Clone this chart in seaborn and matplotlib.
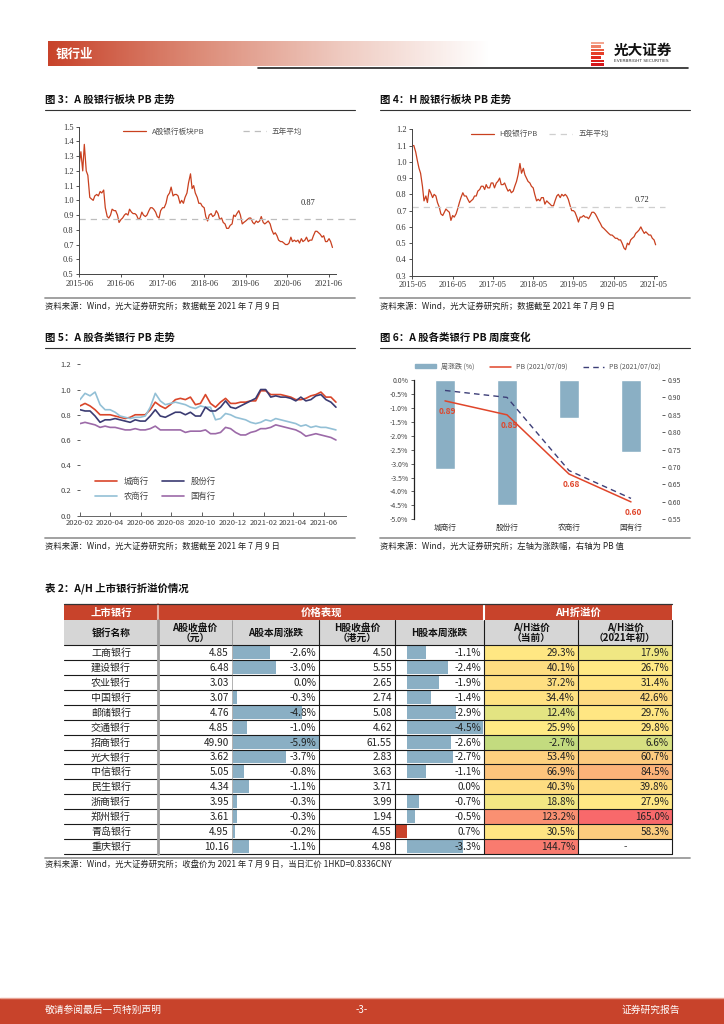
# Page 3 of the bank sector report: PB trend charts plus A/H premium table
import matplotlib
matplotlib.use('Agg')
import matplotlib.pyplot as plt
from matplotlib.patches import Rectangle, Patch
from matplotlib.lines import Line2D
from matplotlib.colors import LinearSegmentedColormap, TwoSlopeNorm
from matplotlib.ticker import FuncFormatter, MultipleLocator
import numpy as np
import pandas as pd
import seaborn as sns

# ---------------- data ----------------
# fig 3: A-share bank sector PB, semi-monthly from 2015-06
a_pb = [1.25, 1.33, 1.20, 1.38, 1.20, 1.17, 1.02, 1.01, 1.00, 1.03, 1.04, 1.03, 1.06, 1.05,
        1.07, 0.95, 0.89, 0.88, 0.90, 0.94, 0.93, 0.93, 0.90, 0.85, 0.87, 0.88,
        0.90, 0.91, 0.90, 0.94, 0.92, 0.91, 0.91, 0.90, 0.87, 0.88, 0.92, 0.90,
        0.89, 0.90, 0.93, 0.95, 0.95, 0.94, 0.92, 0.89, 0.88, 0.93, 0.95, 0.95,
        0.98, 1.03, 1.05, 1.09, 1.03, 1.04, 1.04, 1.03, 0.98, 1.00, 0.98, 1.02,
        1.05, 1.12, 1.18, 1.08, 1.10, 1.05, 1.02, 0.98, 0.98, 0.96, 0.95, 0.89,
        0.86, 0.90, 0.91, 0.89, 0.90, 0.93, 0.91, 0.87, 0.88, 0.85, 0.84, 0.81,
        0.81, 0.83, 0.84, 0.90, 0.89, 0.91, 0.93, 0.90, 0.84, 0.85, 0.86, 0.87,
        0.88, 0.88, 0.85, 0.84, 0.86, 0.85, 0.86, 0.89, 0.85, 0.84, 0.85, 0.86,
        0.84, 0.80, 0.77, 0.78, 0.76, 0.73, 0.72, 0.72, 0.71, 0.70, 0.70, 0.71,
        0.75, 0.72, 0.73, 0.72, 0.73, 0.71, 0.74, 0.72, 0.73, 0.75, 0.72, 0.73,
        0.73, 0.76, 0.79, 0.79, 0.78, 0.77, 0.75, 0.76, 0.72, 0.72, 0.74, 0.72, 0.68]
a_pb_avg = 0.87
a_ticks = ['2015-06', '2016-06', '2017-06', '2018-06', '2019-06', '2020-06', '2021-06']

# fig 4: H-share bank sector PB, semi-monthly from 2015-05
h_pb = [1.10, 1.10, 1.06, 1.01, 0.96, 0.93, 0.85, 0.76, 0.79, 0.75, 0.83, 0.81, 0.78, 0.80, 0.79, 0.75,
        0.72, 0.68, 0.67, 0.69, 0.71, 0.70, 0.69, 0.64, 0.67, 0.66, 0.68, 0.71,
        0.75, 0.78, 0.81, 0.79, 0.79, 0.77, 0.75, 0.76, 0.77, 0.79, 0.79, 0.82,
        0.83, 0.85, 0.85, 0.83, 0.86, 0.84, 0.84, 0.87, 0.87, 0.84, 0.87, 0.88,
        0.90, 0.86, 0.86, 0.87, 0.84, 0.82, 0.83, 0.81, 0.82, 0.85, 0.88, 0.92,
        0.99, 0.93, 0.96, 0.92, 0.90, 0.88, 0.87, 0.85, 0.84, 0.80, 0.76, 0.77,
        0.76, 0.78, 0.78, 0.74, 0.76, 0.75, 0.74, 0.73, 0.73, 0.76, 0.79, 0.80,
        0.78, 0.80, 0.79, 0.80, 0.79, 0.77, 0.73, 0.70, 0.70, 0.69, 0.66, 0.63,
        0.66, 0.66, 0.67, 0.66, 0.66, 0.65, 0.67, 0.69, 0.69, 0.68, 0.66, 0.64,
        0.62, 0.60, 0.59, 0.58, 0.57, 0.56, 0.55, 0.55, 0.54, 0.53, 0.53, 0.52,
        0.52, 0.50, 0.47, 0.46, 0.50, 0.49, 0.52, 0.53, 0.54, 0.56, 0.57, 0.58,
        0.60, 0.58, 0.56, 0.57, 0.56, 0.55, 0.55, 0.53, 0.52, 0.49]
h_pb_avg = 0.72
h_ticks = ['2015-05', '2016-05', '2017-05', '2018-05', '2019-05', '2020-05', '2021-05']

# fig 5: PB by bank type, every 10 days from 2020-02
pb_city = [0.87, 0.89, 0.87, 0.84, 0.80, 0.80, 0.80, 0.79, 0.78, 0.77,
           0.78, 0.80, 0.80, 0.80, 0.84, 0.90, 0.87, 0.85, 0.88, 0.92,
           0.93, 0.92, 0.94, 0.88, 0.89, 0.96, 0.89, 0.86, 0.90, 0.93,
           0.89, 0.89, 0.90, 0.90, 0.91, 0.91, 0.99, 0.99, 0.96, 0.96,
           0.96, 0.95, 0.94, 0.92, 0.92, 0.93, 0.95, 0.96, 0.98, 0.94, 0.94, 0.90]
pb_joint = [0.84, 0.83, 0.83, 0.79, 0.74, 0.76, 0.76, 0.77, 0.76, 0.75,
            0.74, 0.76, 0.75, 0.75, 0.79, 0.84, 0.79, 0.78, 0.80, 0.82,
            0.82, 0.80, 0.82, 0.79, 0.79, 0.86, 0.83, 0.83, 0.86, 0.91,
            0.86, 0.85, 0.87, 0.89, 0.91, 0.93, 1.00, 1.00, 0.94, 0.95,
            0.94, 0.94, 0.93, 0.91, 0.94, 0.91, 0.92, 0.95, 0.96, 0.92, 0.90, 0.86]
pb_rural = [0.92, 0.97, 0.95, 0.98, 0.88, 0.84, 0.84, 0.82, 0.79, 0.78,
            0.77, 0.78, 0.78, 0.79, 0.86, 0.97, 0.91, 0.88, 0.89, 0.90,
            0.89, 0.88, 0.86, 0.85, 0.87, 0.86, 0.86, 0.76, 0.77, 0.81,
            0.80, 0.78, 0.77, 0.76, 0.74, 0.73, 0.74, 0.76, 0.75, 0.77,
            0.76, 0.75, 0.74, 0.73, 0.71, 0.72, 0.70, 0.71, 0.70, 0.70, 0.69, 0.68]
pb_state = [0.73, 0.74, 0.73, 0.72, 0.70, 0.71, 0.70, 0.70, 0.69, 0.68,
            0.68, 0.69, 0.68, 0.68, 0.69, 0.71, 0.68, 0.68, 0.68, 0.68,
            0.68, 0.66, 0.67, 0.67, 0.67, 0.68, 0.65, 0.65, 0.66, 0.70,
            0.69, 0.66, 0.64, 0.64, 0.66, 0.67, 0.69, 0.69, 0.70, 0.72,
            0.71, 0.70, 0.69, 0.68, 0.66, 0.63, 0.64, 0.65, 0.64, 0.63, 0.62, 0.60]
t5_ticks = ['2020-02', '2020-04', '2020-06', '2020-08', '2020-10', '2020-12',
            '2021-02', '2021-04', '2021-06']

# fig 6: weekly change by bank type
bank_types = ['城商行', '股份行', '农商行', '国有行']
week_chg = [-3.2, -4.5, -1.35, -2.6]
pb_0709 = [0.89, 0.85, 0.68, 0.60]
pb_0702 = [0.92, 0.90, 0.69, 0.61]

# table 2
banks = ['工商银行', '建设银行', '农业银行', '中国银行', '邮储银行', '交通银行', '招商银行',
         '光大银行', '中信银行', '民生银行', '浙商银行', '郑州银行', '青岛银行', '重庆银行']
a_close = [4.85, 6.48, 3.03, 3.07, 4.76, 4.85, 49.90, 3.62, 5.05, 4.34, 3.95, 3.61, 4.95, 10.16]
a_chg = [-2.6, -3.0, 0.0, -0.3, -4.8, -1.0, -5.9, -3.7, -0.8, -1.1, -0.3, -0.3, -0.2, -1.1]
h_close = [4.50, 5.55, 2.65, 2.74, 5.08, 4.62, 61.55, 2.83, 3.63, 3.71, 3.99, 1.94, 4.55, 4.98]
h_chg = [-1.1, -2.4, -1.9, -1.4, -2.9, -4.5, -2.6, -2.7, -1.1, 0.0, -0.7, -0.5, 0.7, -3.3]
ah_now = [29.3, 40.1, 37.2, 34.4, 12.4, 25.9, -2.7, 53.4, 66.9, 40.3, 18.8, 123.2, 30.5, 144.7]
ah_2021 = [17.9, 26.7, 31.4, 42.6, 29.7, 29.8, 6.6, 60.7, 84.5, 39.8, 27.9, 165.0, 58.3, None]

# ---------------- style ----------------
sns.set_theme(style='white')
plt.rcParams['font.family'] = ['Noto Sans CJK SC', 'DejaVu Sans']
plt.rcParams['axes.unicode_minus'] = False

W, H = 724, 1024
RED = '#c8432b'
BLUE = '#8aafc4'
TXT = '#222222'

fig = plt.figure(figsize=(W / 100, H / 100), dpi=100)
bg = fig.add_axes([0, 0, 1, 1])
bg.set_autoscale_on(False)
bg.axis('off')


def box(x0, y0, x1, y1):
    # pixel box (top-left origin) -> figure fraction rect
    return [x0 / W, 1 - y1 / H, (x1 - x0) / W, (y1 - y0) / H]


# ---- page header ----
head_cmap = LinearSegmentedColormap.from_list('head', [RED, '#dc8a76', '#efcbc1', '#ffffff'])
bg.imshow(np.linspace(0, 1, 300)[None, :], cmap=head_cmap, extent=(48, 490, 66, 41),
          aspect='auto', zorder=1)
bg.text(56, 54, '银行业', color='white', fontsize=9, fontweight='bold', va='center', zorder=2)
stripe_cols = ['#f4a58f', '#ef8167', '#ea5c42', '#e53f29', '#e22b20', '#dd1f1c', '#d4171b']
for i, c in enumerate(stripe_cols):
    bg.add_patch(Rectangle((591, 41.5 + i * 3.6), 13 - (i % 3 == 1) * 3, 2.7, color=c, lw=0))
bg.text(614, 50, '光大证券', fontsize=10.5, fontweight='bold', va='center', color='#111')
bg.text(614, 61.5, 'EVERBRIGHT SECURITIES', fontsize=3.2, va='center', color='#333',
        family='DejaVu Sans')
bg.plot([258, 688], [68, 68], color='#222', lw=1.2)

# ---- section titles, rules and sources ----
titles = [(45, 100, '图 3：A 股银行板块 PB 走势'), (380, 100, '图 4：H 股银行板块 PB 走势'),
          (45, 338, '图 5：A 股各类银行 PB 走势'), (380, 338, '图 6：A 股各类银行 PB 周度变化'),
          (45, 588, '表 2：A/H 上市银行折溢价情况')]
for x, y, t in titles:
    bg.text(x, y, t, fontsize=7.5, fontweight='bold', va='center', color='#111')
for x0, x1, y in [(45, 355, 110), (380, 690, 110), (45, 355, 348), (380, 690, 348)]:
    bg.plot([x0, x1], [y, y], color='#333', lw=0.8)
for x0, x1, y in [(45, 355, 298), (380, 690, 298), (45, 355, 538), (380, 690, 538), (45, 690, 858)]:
    bg.plot([x0, x1], [y, y], color='#9a9a9a', lw=1.3)
src_date = '资料来源：Wind，光大证券研究所；数据截至 2021 年 7 月 9 日'
sources = [(45, 306, src_date), (380, 306, src_date), (45, 546, src_date),
           (380, 546, '资料来源：Wind，光大证券研究所；左轴为涨跌幅，右轴为 PB 值'),
           (45, 864, '资料来源：Wind，光大证券研究所；收盘价为 2021 年 7 月 9 日，当日汇价 1HKD=0.8336CNY')]
for x, y, t in sources:
    bg.text(x, y, t, fontsize=6, va='center', color=TXT)


def style_ts(ax, ticks):
    ax.set_xticks(pd.to_datetime(ticks))
    ax.set_xticklabels(ticks)
    ax.yaxis.set_major_locator(MultipleLocator(0.1))
    ax.yaxis.set_major_formatter(FuncFormatter(lambda v, p: f'{v:.1f}'))
    ax.tick_params(bottom=True, left=True, direction='out', length=2.5, width=0.6, pad=1.5,
                   labelsize=6, colors='#333', labelfontfamily='Liberation Serif')
    ax.set_xlabel('')
    ax.set_ylabel('')
    for s in ['top', 'right']:
        ax.spines[s].set_visible(False)
    for s in ['left', 'bottom']:
        ax.spines[s].set_color('#444')
        ax.spines[s].set_linewidth(0.7)
    ax.patch.set_alpha(0)


# ---- fig 3 ----
ax3 = fig.add_axes(box(79.3, 126.7, 336, 274))
d3 = pd.date_range('2015-06-01', periods=len(a_pb), freq='SMS')
sns.lineplot(x=d3, y=a_pb, ax=ax3, color='#c9401f', linewidth=0.9, label='A股银行板块PB')
ax3.axhline(a_pb_avg, xmax=1.08, clip_on=False, color='#bdbdbd', linewidth=0.9,
            dashes=(5, 4), label='五年平均')
ax3.set_xlim(pd.Timestamp('2015-06-01'), pd.Timestamp('2021-08-01'))
ax3.set_ylim(0.5, 1.5)
style_ts(ax3, a_ticks)
ax3.text(pd.Timestamp('2020-12-01'), 0.985, f'{a_pb_avg:.2f}', fontsize=6,
         family='Liberation Serif', ha='center', va='center')
ax3.legend(loc='upper center', bbox_to_anchor=(0.52, 1.04), ncol=2, frameon=False,
           fontsize=5.5, handlelength=3, columnspacing=5, labelcolor='#555')

# ---- fig 4 ----
ax4 = fig.add_axes(box(412.3, 129.3, 657.5, 275.7))
d4 = pd.date_range('2015-05-01', periods=len(h_pb), freq='SMS')
sns.lineplot(x=d4, y=h_pb, ax=ax4, color='#c9401f', linewidth=0.9, label='H股银行PB')
ax4.axhline(h_pb_avg, xmax=1.03, clip_on=False, color='#cfcfcf', linewidth=0.9,
            dashes=(5, 4), label='五年平均')
ax4.set_xlim(pd.Timestamp('2015-05-01'), pd.Timestamp('2021-06-01'))
ax4.set_ylim(0.3, 1.2)
style_ts(ax4, h_ticks)
ax4.text(pd.Timestamp('2021-01-10'), 0.765, f'{h_pb_avg:.2f}', fontsize=6,
         family='Liberation Serif', ha='center', va='center')
ax4.legend(loc='upper center', bbox_to_anchor=(0.52, 1.04), ncol=2, frameon=False,
           fontsize=5.5, handlelength=3, columnspacing=1.5, labelcolor='#555')

# ---- fig 5 ----
ax5 = fig.add_axes(box(80, 364.3, 346, 515.7))
d5 = pd.date_range('2020-02-01', periods=len(pb_city), freq='10D')
df5 = pd.DataFrame({'date': d5, '城商行': pb_city, '股份行': pb_joint,
                    '农商行': pb_rural, '国有行': pb_state})
df5 = df5.melt(id_vars='date', var_name='type', value_name='pb')
pal5 = {'城商行': '#d9462a', '股份行': '#3b3b72', '农商行': '#93c0d6', '国有行': '#9c6aa8'}
sns.lineplot(data=df5, x='date', y='pb', hue='type', palette=pal5,
             hue_order=['城商行', '农商行', '股份行', '国有行'], linewidth=1.2, ax=ax5)
ax5.set_xlim(pd.Timestamp('2020-02-01'), pd.Timestamp('2021-07-15'))
ax5.set_ylim(0, 1.2)
ax5.set_xticks(pd.to_datetime(t5_ticks))
ax5.set_xticklabels(t5_ticks)
ax5.yaxis.set_major_locator(MultipleLocator(0.2))
ax5.yaxis.set_major_formatter(FuncFormatter(lambda v, p: f'{v:.1f}'))
ax5.tick_params(axis='x', bottom=True, direction='in', length=3, width=0.6, labelsize=5.5,
                pad=2.5, colors='#444')
ax5.tick_params(axis='y', left=True, direction='out', length=2.5, width=0.6, labelsize=5.5,
                pad=4, colors='#444')
ax5.set_xlabel('')
ax5.set_ylabel('')
for s in ['top', 'right', 'left']:
    ax5.spines[s].set_visible(False)
ax5.spines['bottom'].set_color('#666')
ax5.spines['bottom'].set_linewidth(0.7)
h5, l5 = ax5.get_legend_handles_labels()
ax5.legend(h5, l5, loc='lower left', bbox_to_anchor=(0.03, 0.05), ncol=2, frameon=False,
           fontsize=6, handlelength=2.6, columnspacing=1.6, labelspacing=0.7, labelcolor='#444')
ax5.patch.set_alpha(0)

# ---- fig 6 ----
ax6 = fig.add_axes(box(414, 380, 662, 519.3))
sns.barplot(x=bank_types, y=week_chg, color=BLUE, width=0.31, saturation=1, ax=ax6)
ax6.set_ylim(-5, 0)
ax6.set_xlim(-0.5, 3.5)
ax6.yaxis.set_major_locator(MultipleLocator(0.5))
ax6.yaxis.set_major_formatter(FuncFormatter(lambda v, p: f'{v:.1f}%'))
ax6.tick_params(axis='y', left=True, direction='out', length=2, width=0.6, labelsize=5,
                pad=2, colors='#444')
ax6.tick_params(axis='x', bottom=False, length=0, labelsize=5.5, pad=3, colors='#333')
ax6.set_xlabel('')
ax6.set_ylabel('')
for s in ['top', 'right', 'bottom']:
    ax6.spines[s].set_visible(False)
ax6.spines['left'].set_color('#222')
ax6.spines['left'].set_linewidth(0.9)
ax6.patch.set_alpha(0)

ax6b = ax6.twinx()
xs6 = np.arange(len(bank_types))
sns.lineplot(x=xs6, y=pb_0709, ax=ax6b, color='#e0452a', linewidth=1.1)
sns.lineplot(x=xs6, y=pb_0702, ax=ax6b, color='#3d3f78', linewidth=1.0)
ax6b.lines[-1].set_linestyle((0, (4, 3)))
ax6b.set_ylim(0.55, 0.95)
ax6b.yaxis.set_major_locator(MultipleLocator(0.05))
ax6b.yaxis.set_major_formatter(FuncFormatter(lambda v, p: f'{v:.2f}'))
ax6b.tick_params(axis='y', right=True, direction='out', length=2, width=0.6, labelsize=5,
                 pad=2, colors='#444')
ax6b.set_ylabel('')
for s in ax6b.spines.values():
    s.set_visible(False)
for xi, v in zip(xs6, pb_0709):
    ax6b.annotate(f'{v:.2f}', (xi, v), xytext=(2, -7.5), textcoords='offset points',
                  ha='center', va='center', color='#e0452a', fontsize=6, fontweight='bold')
leg6 = [Patch(color=BLUE), Line2D([], [], color='#e0452a', lw=1.1),
        Line2D([], [], color='#3d3f78', lw=1.0, ls=(0, (4, 3)))]
ax6b.legend(leg6, ['周涨跌 (%)', 'PB (2021/07/09)', 'PB (2021/07/02)'], loc='center',
            bbox_to_anchor=(0.5, 1.095), ncol=3, frameon=False, fontsize=5, handlelength=3,
            handleheight=0.5, columnspacing=2.2, labelcolor='#555')

# ---- table 2 ----
cols = [64, 158, 232, 319, 395, 484, 578, 672]
top1, top2, top_d = 604, 620, 645
row_h = 14.93
bot = top_d + row_h * len(banks)
fs = 7.2

bg.add_patch(Rectangle((cols[0], top1), cols[-1] - cols[0], top2 - top1, color=RED, lw=0, zorder=2))
for t, a, b in [('上市银行', 0, 1), ('价格表现', 1, 5), ('AH折溢价', 5, 7)]:
    bg.text((cols[a] + cols[b]) / 2, (top1 + top2) / 2 + 0.5, t, color='white', fontsize=7.5,
            fontweight='bold', ha='center', va='center', zorder=5)
bg.plot([158, 158], [top1, top2], color='#e9ad9f', lw=1.5, zorder=4)
bg.plot([484, 484], [top1, top2], color='white', lw=1.5, zorder=4)

bg.add_patch(Rectangle((cols[0], top2), cols[-1] - cols[0], top_d - top2, color='#d6d6d6', lw=0, zorder=2))
head2 = ['银行名称', 'A股收盘价\n（元）', 'A股本周涨跌', 'H股收盘价\n（港元）', 'H股本周涨跌',
         'A/H溢价\n（当前）', 'A/H溢价\n（2021年初）']
for j, t in enumerate(head2):
    bg.text((cols[j] + cols[j + 1]) / 2, (top2 + top_d) / 2, t, fontsize=7, fontweight='bold',
            ha='center', va='center', linespacing=1.0, color='#111', zorder=5)

ah_vals = [v for v in ah_now + ah_2021 if v is not None]
ah_mid = 25.0
ah_norm = TwoSlopeNorm(vmin=min(ah_vals), vcenter=ah_mid, vmax=max(ah_vals))
ah_cmap = LinearSegmentedColormap.from_list('ah', ['#c3db7f', '#ffeb84', '#f8696b'])
a_max = max(abs(v) for v in a_chg)
h_max = max(abs(v) for v in h_chg)
h_axis = 407

for i, name in enumerate(banks):
    y0 = top_d + i * row_h
    yc = y0 + row_h / 2 + 0.5
    bg.text((cols[0] + cols[1]) / 2, yc, name, fontsize=fs, ha='center', va='center',
            color='#222', zorder=5)
    bg.text(cols[2] - 3, yc, f'{a_close[i]:.2f}', fontsize=fs, ha='right', va='center',
            color='#222', zorder=5)
    if a_chg[i] != 0:
        bw = abs(a_chg[i]) / a_max * (cols[3] - cols[2] - 1)
        bg.add_patch(Rectangle((cols[2] + 0.5, y0 + 1), bw, row_h - 2, color=BLUE, lw=0, zorder=3))
    bg.text(cols[3] - 3, yc, f'{a_chg[i]:.1f}%', fontsize=fs, ha='right', va='center',
            color='#222', zorder=5)
    bg.text(cols[4] - 3, yc, f'{h_close[i]:.2f}', fontsize=fs, ha='right', va='center',
            color='#222', zorder=5)
    if h_chg[i] < 0:
        bw = abs(h_chg[i]) / h_max * (cols[5] - h_axis - 1)
        bg.add_patch(Rectangle((h_axis, y0 + 1), bw, row_h - 2, color=BLUE, lw=0, zorder=3))
    elif h_chg[i] > 0:
        bw = h_chg[i] / h_max * (cols[5] - h_axis - 1)
        bg.add_patch(Rectangle((h_axis - bw, y0 + 1), bw, row_h - 2, color=RED, lw=0, zorder=3))
    bg.text(cols[5] - 3, yc, f'{h_chg[i]:.1f}%', fontsize=fs, ha='right', va='center',
            color='#222', zorder=5)
    for j, v in [(5, ah_now[i]), (6, ah_2021[i])]:
        if v is None:
            bg.text((cols[j] + cols[j + 1]) / 2, yc, '-', fontsize=fs, ha='center', va='center',
                    color='#444', zorder=5)
            continue
        bg.add_patch(Rectangle((cols[j], y0), cols[j + 1] - cols[j], row_h,
                               color=ah_cmap(ah_norm(v)), lw=0, zorder=2))
        bg.text(cols[j + 1] - 3, yc, f'{v:.1f}%', fontsize=fs, ha='right', va='center',
                color='#222', zorder=5)

for i in range(len(banks) + 1):
    y = top_d + i * row_h
    bg.plot([cols[0], cols[-1]], [y, y], color='#1a1a1a', lw=0.8, zorder=4)
bg.plot([cols[0], cols[-1]], [top1, top1], color='#333', lw=0.9, zorder=4)
bg.plot([158, 158], [top2, bot], color='#a0a0a0', lw=2, zorder=4)
bg.plot([cols[2], cols[2]], [top2, bot], color='#777', lw=0.4, zorder=4)
for x in cols[3:]:
    bg.plot([x, x], [top2, bot], color='#1a1a1a', lw=0.8, zorder=4)

# ---- page footer ----
bg.add_patch(Rectangle((0, 998), W, 26, color=RED, lw=0))
bg.plot([0, W], [998, 998], color='#e8a597', lw=1)
bg.text(45, 1010, '敬请参阅最后一页特别声明', fontsize=7, color='white', va='center')
bg.text(W / 2, 1010, '-3-', fontsize=7, color='white', va='center', ha='center')
bg.text(680, 1010, '证券研究报告', fontsize=7, color='white', va='center', ha='right')

bg.set_xlim(0, W)
bg.set_ylim(H, 0)

fig.savefig('out.png', dpi=100)
plt.close(fig)
